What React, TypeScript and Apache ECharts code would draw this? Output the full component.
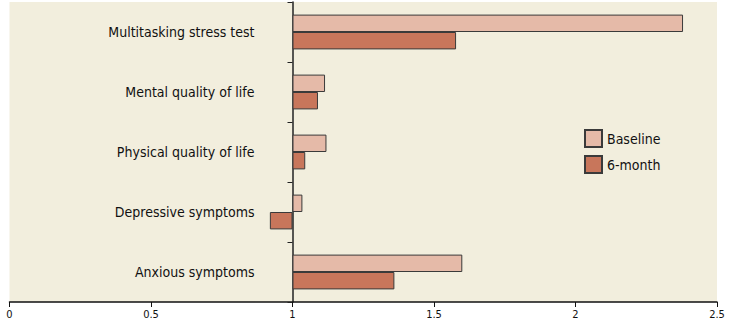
import React, { useEffect, useRef } from "react";
import * as echarts from "echarts";

const categories = [
  "Multitasking stress test",
  "Mental quality of life",
  "Physical quality of life",
  "Depressive symptoms",
  "Anxious symptoms",
];
const baseline = [2.38, 1.115, 1.12, 1.035, 1.6];
const sixMonth = [1.578, 1.09, 1.045, 0.92, 1.36];
const xTicks = [0, 0.5, 1, 1.5, 2, 2.5];
const refValue = 1;

const FONT = "'Liberation Sans Narrow', 'DejaVu Sans Condensed', sans-serif";

export default function App() {
  const ref = useRef<HTMLDivElement>(null);
  useEffect(() => {
    if (!ref.current) return;
    const chart = echarts.init(ref.current, undefined, { renderer: "svg" });
    const left = 9.5;
    const right = 15;
    const gridW = 732 - left - right;
    const xMax = xTicks[xTicks.length - 1];
    const axisOffset = -((refValue - xTicks[0]) / (xMax - xTicks[0])) * gridW;
    const helper = (arr: number[]) => arr.map((v) => Math.min(v, refValue));
    const visible = (arr: number[]) => arr.map((v) => Math.abs(v - refValue));
    const border = { borderColor: "#3a3a3a", borderWidth: 1 };
    chart.setOption({
      animation: false,
      grid: {
        left,
        right,
        top: 2,
        bottom: 23,
        show: true,
        backgroundColor: "#f2eedd",
        borderWidth: 0,
      },
      legend: {
        data: ["Baseline", "6-month"],
        orient: "vertical",
        left: 579,
        top: 124,
        itemWidth: 17,
        itemHeight: 17,
        itemGap: 7,
        icon: "rect",
        textStyle: { fontFamily: FONT, fontSize: 14, color: "#111" },
      },
      xAxis: {
        type: "value",
        min: xTicks[0],
        max: xMax,
        interval: 0.5,
        splitLine: { show: false },
        axisLine: { show: true, lineStyle: { color: "#111", width: 1.5 } },
        axisTick: { show: true, length: 5, lineStyle: { color: "#111" } },
        axisLabel: {
          fontFamily: FONT,
          fontSize: 11,
          color: "#111",
          margin: 7,
        },
      },
      yAxis: {
        type: "category",
        data: categories,
        inverse: true,
        offset: axisOffset,
        axisLine: { show: true, onZero: false, lineStyle: { color: "#222", width: 1.5 } },
        axisTick: { show: true, length: 5, lineStyle: { color: "#222" } },
        axisLabel: {
          fontFamily: FONT,
          fontSize: 14,
          color: "#111",
          margin: 38,
        },
      },
      series: [
        {
          name: "bh",
          type: "bar",
          stack: "b",
          data: helper(baseline),
          itemStyle: { color: "transparent" },
          emphasis: { disabled: true },
          silent: true,
          barGap: "0%",
          barCategoryGap: "42%",
        },
        {
          name: "Baseline",
          type: "bar",
          stack: "b",
          data: visible(baseline),
          itemStyle: { color: "#e5baa8", ...border },
        },
        {
          name: "mh",
          type: "bar",
          stack: "m",
          data: helper(sixMonth),
          itemStyle: { color: "transparent" },
          emphasis: { disabled: true },
          silent: true,
        },
        {
          name: "6-month",
          type: "bar",
          stack: "m",
          data: visible(sixMonth),
          itemStyle: { color: "#c8765b", ...border },
        },
      ],
    });
    return () => chart.dispose();
  }, []);
  return (
    <div
      ref={ref}
      style={{ position: "fixed", left: 0, top: 0, width: 732, height: 325, background: "#fff" }}
    />
  );
}
